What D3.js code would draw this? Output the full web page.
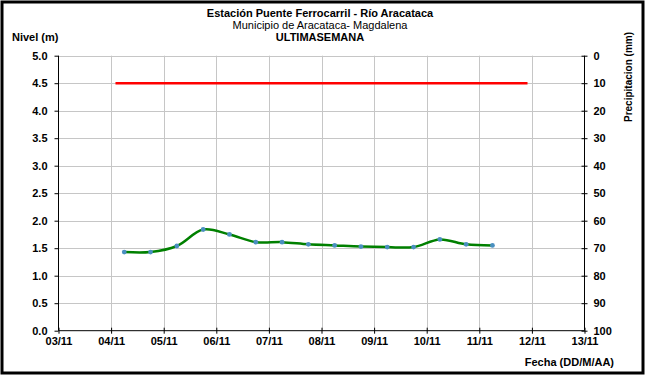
<!DOCTYPE html>
<html><head><meta charset="utf-8">
<script src="https://cdn.jsdelivr.net/npm/d3@7"></script>
<style>body{margin:0;background:#fff}svg{display:block}text{font-family:Arial,"Liberation Sans",sans-serif}</style>
</head><body><svg id="c" width="646" height="378"></svg>
<script>
const xTickLabels = ["03/11","04/11","05/11","06/11","07/11","08/11","09/11","10/11","11/11","12/11","13/11"];
const levelTimes = ["2023-11-04T06:00","2023-11-04T18:00","2023-11-05T06:00","2023-11-05T18:00","2023-11-06T06:00","2023-11-06T18:00","2023-11-07T06:00","2023-11-07T18:00","2023-11-08T06:00","2023-11-08T18:00","2023-11-09T06:00","2023-11-09T18:00","2023-11-10T06:00","2023-11-10T18:00","2023-11-11T06:00"];
const levelValues = [1.43,1.43,1.54,1.84,1.75,1.61,1.61,1.57,1.55,1.53,1.52,1.52,1.66,1.57,1.55];
const alertTimes = ["2023-11-04T02:00","2023-11-11T22:00"];
const alertValues = [4.5,4.5];
const levelTicks = [0,0.5,1,1.5,2,2.5,3,3.5,4,4.5,5];
const precipTicks = [0,10,20,30,40,50,60,70,80,90,100];

const svg = d3.select("#c");
const parse = d3.timeParse("%Y-%m-%dT%H:%M");
const L = 58.5, R = 584.5, T = 55.7, B = 330.7;
const x = d3.scaleTime().domain([parse("2023-11-03T00:00"), parse("2023-11-13T00:00")]).range([L, R]);
const y = d3.scaleLinear().domain([0,5]).range([B,T]);
const y2 = d3.scaleLinear().domain([0,100]).range([T,B]);
const xTickDates = d3.range(11).map(i => d3.timeDay.offset(parse("2023-11-03T00:00"), i));

// border
svg.append("rect").attr("x",2).attr("y",2).attr("width",641).attr("height",371)
  .attr("fill","#fff").attr("stroke","#000").attr("stroke-width",3);

// grid
const g = svg.append("g");
g.selectAll("line.h").data(levelTicks.slice(1)).join("line")
  .attr("x1",L).attr("x2",R).attr("y1",d=>Math.round(y(d))+0.5).attr("y2",d=>Math.round(y(d))+0.5)
  .attr("stroke","#c6c6c6").attr("stroke-width",1);
g.selectAll("line.v").data(xTickDates.slice(1,-1)).join("line")
  .attr("y1",T).attr("y2",B).attr("x1",d=>Math.round(x(d))+0.5).attr("x2",d=>Math.round(x(d))+0.5)
  .attr("stroke","#c6c6c6").attr("stroke-width",1);

// axes
const ax = svg.append("g").attr("transform",`translate(${L},0)`)
  .call(d3.axisLeft(y).tickValues(levelTicks).tickFormat(d3.format(".1f")).tickSize(4).tickPadding(7));
const ax2 = svg.append("g").attr("transform",`translate(${R},0)`)
  .call(d3.axisRight(y2).tickValues(precipTicks).tickSize(3).tickPadding(6));
ax2.selectAll(".tick line").attr("x1",-3);
const axx = svg.append("g").attr("transform",`translate(0,${B})`)
  .call(d3.axisBottom(x).tickValues(xTickDates).tickFormat((d,i)=>xTickLabels[i]).tickSize(3).tickPadding(4));
axx.selectAll(".tick line").attr("y1",-3);
[ax,ax2,axx].forEach(a=>{
  a.select(".domain").attr("stroke","#000");
  a.selectAll(".tick line").attr("stroke","#000");
  a.selectAll("text").attr("font-size",11).attr("font-weight","bold").attr("fill","#000");
});
axx.select(".domain").attr("d",`M${L},0H${R}`);
ax.select(".domain").attr("d",`M0,${T}V${B}`);
ax2.select(".domain").attr("d",`M0,${T}V${B}`);

// alert line
svg.append("path").datum(alertTimes.map((t,i)=>[parse(t),alertValues[i]]))
  .attr("d",d3.line().x(d=>x(d[0])).y(d=>y(d[1])))
  .attr("stroke","#ff0000").attr("stroke-width",2.5).attr("fill","none");

// level line
const lv = levelTimes.map((t,i)=>[parse(t),levelValues[i]]);
svg.append("path").datum(lv)
  .attr("d",d3.line().curve(d3.curveCatmullRom.alpha(0.5)).x(d=>x(d[0])).y(d=>y(d[1])))
  .attr("stroke","#008000").attr("stroke-width",2.5).attr("fill","none");
svg.selectAll("circle.p").data(lv).join("circle")
  .attr("cx",d=>x(d[0])).attr("cy",d=>y(d[1])).attr("r",2.4).attr("fill","#4a8fc0");

// titles
svg.append("text").attr("x",320).attr("y",17).attr("text-anchor","middle").attr("font-size",11).attr("font-weight","bold").text("Estación Puente Ferrocarril - Río Aracataca");
svg.append("text").attr("x",320).attr("y",29).attr("text-anchor","middle").attr("font-size",11).text("Municipio de Aracataca- Magdalena");
svg.append("text").attr("x",320).attr("y",41).attr("text-anchor","middle").attr("font-size",11).attr("font-weight","bold").text("ULTIMASEMANA");
svg.append("text").attr("x",12).attr("y",41).attr("font-size",11).attr("font-weight","bold").text("Nivel (m)");
svg.append("text").attr("transform","translate(632,77) rotate(-90)").attr("text-anchor","middle").attr("font-size",10).attr("font-weight","bold").text("Precipitacion (mm)");
svg.append("text").attr("x",614).attr("y",366).attr("text-anchor","end").attr("font-size",11).attr("font-weight","bold").text("Fecha (DD/M/AA)");
</script></body></html>
